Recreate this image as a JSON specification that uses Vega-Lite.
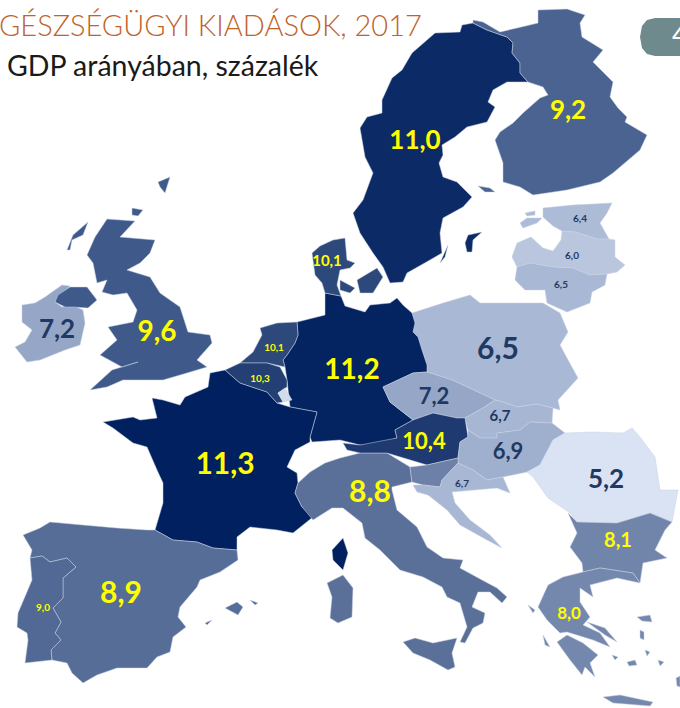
{"$schema":"https://vega.github.io/schema/vega-lite/v6.json","width":680,"height":708,"padding":0,"autosize":{"type":"fit","contains":"padding"},"background":"#ffffff","config":{"view":{"stroke":null}},"projection":{"type":"identity","scale":1,"translate":[0,0]},
"datasets":{"countries":[
{"type":"Feature","properties":{"country":"Sweden","value":11.0},"geometry":{"type":"MultiPolygon","coordinates":[[[[462,25],[473,23],[487,30],[507,37],[513,43],[512,53],[520,63],[520,73],[528,82],[507,82],[493,90],[488,102],[495,107],[487,122],[467,127],[455,137],[442,145],[443,155],[439,163],[443,177],[457,182],[472,197],[463,207],[443,218],[440,233],[442,253],[430,260],[407,273],[403,282],[390,283],[383,267],[373,253],[360,233],[353,213],[363,200],[373,173],[365,157],[360,128],[367,117],[382,113],[382,100],[392,78],[402,70],[412,53],[435,33],[460,32],[462,25]]],[[[465,243],[468,235],[482,232],[473,240],[472,252],[467,252],[465,243]]],[[[440,263],[448,245],[445,257],[440,263]]]]}},
{"type":"Feature","properties":{"country":"Finland","value":9.2},"geometry":{"type":"MultiPolygon","coordinates":[[[[473,20],[483,22],[500,32],[517,28],[538,23],[538,10],[567,9],[585,15],[580,23],[582,37],[603,50],[593,62],[613,82],[610,97],[618,108],[627,117],[625,122],[647,135],[640,150],[613,173],[600,182],[567,190],[533,195],[520,187],[503,182],[503,163],[495,140],[500,132],[513,123],[523,113],[540,98],[548,95],[543,87],[528,82],[520,73],[520,63],[512,53],[513,43],[507,37],[487,30],[473,23],[473,20]]],[[[478,186],[490,188],[495,192],[485,192],[478,186]]]]}},
{"type":"Feature","properties":{"country":"Estonia","value":6.4},"geometry":{"type":"MultiPolygon","coordinates":[[[[543,208],[573,205],[612,203],[607,213],[600,223],[609,239],[597,239],[575,232],[562,231],[553,226],[543,217],[543,208]]],[[[520,223],[527,218],[542,218],[537,223],[523,228],[520,223]]],[[[525,213],[535,211],[535,215],[527,216],[525,213]]]]}},
{"type":"Feature","properties":{"country":"Latvia","value":6.0},"geometry":{"type":"Polygon","coordinates":[[[512,257],[517,243],[531,237],[543,248],[553,251],[561,240],[562,231],[575,232],[597,239],[609,239],[615,240],[615,257],[625,265],[617,272],[607,274],[590,275],[573,268],[553,267],[530,263],[517,267],[512,257]]]}},
{"type":"Feature","properties":{"country":"Lithuania","value":6.5},"geometry":{"type":"Polygon","coordinates":[[[517,267],[530,263],[553,267],[573,268],[590,275],[607,274],[605,285],[592,292],[590,303],[567,312],[547,303],[545,290],[525,290],[515,280],[517,267]]]}},
{"type":"Feature","properties":{"country":"Poland","value":6.5},"geometry":{"type":"Polygon","coordinates":[[[412,313],[443,303],[470,295],[480,303],[543,303],[560,313],[568,332],[560,345],[567,358],[578,378],[558,400],[560,410],[553,408],[537,404],[517,407],[503,402],[495,400],[463,385],[452,380],[427,372],[427,365],[422,350],[418,337],[413,332],[415,323],[412,313]]]}},
{"type":"Feature","properties":{"country":"Germany","value":11.2},"geometry":{"type":"Polygon","coordinates":[[[325,293],[341,296],[345,306],[365,312],[370,305],[390,303],[397,298],[403,305],[412,313],[415,323],[413,332],[418,337],[422,350],[427,365],[427,372],[413,373],[383,387],[390,402],[413,420],[395,430],[397,438],[375,445],[360,445],[340,440],[312,442],[310,437],[317,412],[290,407],[287,380],[285,367],[283,360],[287,355],[295,343],[298,335],[297,322],[325,315],[325,293]]]}},
{"type":"Feature","properties":{"country":"Denmark","value":10.1},"geometry":{"type":"MultiPolygon","coordinates":[[[[312,253],[320,246],[333,240],[345,238],[347,260],[355,263],[350,268],[340,270],[337,285],[341,296],[325,293],[322,283],[315,275],[312,253]]],[[[357,280],[377,268],[383,277],[373,293],[360,293],[357,280]]],[[[340,280],[355,288],[350,293],[340,290],[340,280]]]]}},
{"type":"Feature","properties":{"country":"Ireland","value":7.2},"geometry":{"type":"Polygon","coordinates":[[[45,297],[62,285],[70,286],[57,299],[55,302],[62,307],[72,305],[83,310],[85,323],[80,345],[65,350],[40,360],[27,362],[15,347],[25,342],[32,330],[22,322],[22,305],[35,303],[45,297]]]}},
{"type":"Feature","properties":{"country":"United Kingdom","value":9.6},"geometry":{"type":"MultiPolygon","coordinates":[[[[107,219],[135,221],[120,237],[155,240],[150,253],[140,263],[127,270],[150,277],[160,293],[180,307],[188,332],[210,335],[212,343],[197,360],[207,367],[187,373],[163,380],[123,380],[107,387],[90,390],[112,370],[138,362],[122,367],[100,355],[117,340],[108,327],[133,322],[137,310],[127,293],[113,295],[102,292],[107,280],[97,283],[93,263],[87,255],[95,237],[107,219]]],[[[55,302],[58,295],[70,287],[87,287],[97,300],[88,308],[73,307],[65,307],[55,302]]],[[[67,250],[73,235],[88,222],[83,235],[72,240],[70,250],[67,250]]],[[[132,208],[143,210],[138,216],[132,215],[132,208]]],[[[158,182],[170,177],[165,193],[160,187],[158,182]]]]}},
{"type":"Feature","properties":{"country":"France","value":11.3},"geometry":{"type":"MultiPolygon","coordinates":[[[[210,373],[225,370],[240,383],[267,392],[277,403],[290,407],[317,412],[310,437],[310,442],[295,450],[287,467],[297,473],[298,483],[295,493],[302,507],[313,517],[293,533],[277,530],[250,527],[237,537],[237,550],[213,548],[197,542],[173,540],[155,530],[163,503],[163,483],[157,470],[147,447],[133,443],[113,428],[103,422],[133,417],[140,420],[157,418],[152,398],[163,400],[180,405],[185,397],[208,387],[210,373]]],[[[343,538],[348,553],[343,570],[333,560],[332,550],[343,538]]]]}},
{"type":"Feature","properties":{"country":"Italy","value":8.8},"geometry":{"type":"MultiPolygon","coordinates":[[[[298,483],[310,472],[325,463],[340,458],[360,453],[370,453],[387,453],[410,467],[412,482],[392,487],[392,490],[397,510],[417,527],[427,547],[443,558],[463,560],[460,568],[482,580],[497,588],[507,597],[502,603],[490,592],[478,592],[472,607],[485,613],[483,623],[473,628],[465,643],[460,642],[467,627],[460,603],[447,597],[442,587],[423,577],[400,570],[380,550],[365,538],[362,523],[343,508],[332,508],[313,520],[302,507],[295,493],[298,483]]],[[[327,583],[343,575],[353,588],[352,617],[338,623],[330,618],[332,597],[327,583]]],[[[403,642],[415,638],[433,643],[457,638],[452,653],[455,667],[448,670],[430,660],[413,653],[403,642]]]]}},
{"type":"Feature","properties":{"country":"Spain","value":8.9},"geometry":{"type":"MultiPolygon","coordinates":[[[[23,535],[40,528],[50,522],[83,525],[117,528],[147,530],[155,530],[173,540],[197,542],[213,548],[237,550],[238,560],[220,572],[200,580],[197,587],[180,607],[178,617],[186,627],[173,637],[170,652],[157,657],[147,668],[117,668],[97,675],[83,683],[72,673],[67,663],[52,660],[51,650],[61,640],[55,633],[61,622],[53,608],[63,598],[63,578],[76,567],[67,558],[50,562],[42,556],[30,558],[32,550],[23,535]]],[[[225,608],[237,602],[243,607],[238,615],[225,608]]],[[[250,600],[258,603],[255,605],[250,600]]],[[[205,623],[212,620],[207,625],[205,623]]]]}},
{"type":"Feature","properties":{"country":"Portugal","value":9.0},"geometry":{"type":"Polygon","coordinates":[[[30,558],[42,556],[50,562],[67,558],[76,567],[63,578],[63,598],[53,608],[61,622],[55,633],[61,640],[51,650],[52,660],[25,663],[28,640],[27,633],[17,627],[18,613],[32,580],[30,558]]]}},
{"type":"Feature","properties":{"country":"Netherlands","value":10.1},"geometry":{"type":"Polygon","coordinates":[[[260,328],[277,323],[297,322],[298,335],[295,343],[287,355],[283,360],[285,367],[267,363],[240,363],[253,352],[262,335],[260,328]]]}},
{"type":"Feature","properties":{"country":"Belgium","value":10.3},"geometry":{"type":"Polygon","coordinates":[[[225,370],[240,363],[267,363],[280,367],[287,380],[287,387],[278,393],[283,402],[277,403],[267,392],[240,383],[225,370]]]}},
{"type":"Feature","properties":{"country":"Luxembourg","value":4.8},"geometry":{"type":"Polygon","coordinates":[[[278,393],[285,388],[292,400],[283,402],[278,393]]]}},
{"type":"Feature","properties":{"country":"Czechia","value":7.2},"geometry":{"type":"Polygon","coordinates":[[[383,387],[413,373],[427,372],[452,380],[463,385],[495,400],[483,408],[465,418],[457,418],[433,413],[413,420],[390,402],[383,387]]]}},
{"type":"Feature","properties":{"country":"Slovakia","value":6.7},"geometry":{"type":"Polygon","coordinates":[[[465,418],[483,408],[495,400],[503,402],[517,407],[537,404],[553,408],[552,423],[530,422],[520,430],[497,433],[497,438],[480,438],[468,430],[465,418]]]}},
{"type":"Feature","properties":{"country":"Austria","value":10.4},"geometry":{"type":"Polygon","coordinates":[[[343,443],[360,445],[397,438],[395,430],[413,420],[433,413],[457,418],[465,418],[468,437],[460,442],[458,458],[427,465],[387,453],[370,453],[360,453],[347,450],[343,443]]]}},
{"type":"Feature","properties":{"country":"Hungary","value":6.9},"geometry":{"type":"Polygon","coordinates":[[[468,430],[480,438],[497,438],[497,433],[520,430],[530,422],[552,423],[565,433],[553,440],[540,465],[527,472],[503,477],[487,480],[473,470],[458,463],[458,458],[460,442],[468,437],[468,430]]]}},
{"type":"Feature","properties":{"country":"Slovenia","value":8.2},"geometry":{"type":"Polygon","coordinates":[[[410,467],[427,465],[458,458],[458,463],[442,480],[440,487],[423,485],[412,482],[410,467]]]}},
{"type":"Feature","properties":{"country":"Croatia","value":6.6},"geometry":{"type":"Polygon","coordinates":[[[458,463],[473,470],[487,480],[503,477],[510,493],[497,488],[452,492],[455,503],[470,520],[490,535],[502,548],[487,540],[460,525],[447,510],[428,495],[417,492],[413,485],[423,485],[440,487],[442,480],[458,463]]]}},
{"type":"Feature","properties":{"country":"Romania","value":5.2},"geometry":{"type":"Polygon","coordinates":[[[565,433],[593,432],[623,433],[632,428],[640,437],[655,457],[660,490],[678,490],[672,522],[650,513],[617,523],[577,522],[570,513],[548,498],[533,477],[527,472],[540,465],[553,440],[565,433]]]}},
{"type":"Feature","properties":{"country":"Bulgaria","value":8.1},"geometry":{"type":"Polygon","coordinates":[[[568,513],[577,522],[617,523],[650,513],[672,522],[665,530],[655,550],[667,558],[643,563],[640,583],[633,573],[600,568],[583,572],[582,563],[570,547],[577,533],[568,513]]]}},
{"type":"Feature","properties":{"country":"Greece","value":8.0},"geometry":{"type":"MultiPolygon","coordinates":[[[[583,572],[600,568],[633,573],[640,583],[617,578],[590,585],[593,597],[580,588],[580,602],[590,617],[583,625],[600,633],[610,647],[593,640],[567,632],[560,633],[547,620],[538,607],[548,585],[563,577],[583,572]]],[[[557,642],[567,635],[583,643],[598,655],[590,663],[595,677],[585,667],[582,675],[570,660],[557,642]]],[[[603,697],[620,695],[653,702],[650,706],[613,703],[603,697]]],[[[637,617],[650,615],[652,622],[642,621],[637,617]]],[[[640,630],[644,632],[644,640],[640,638],[640,630]]],[[[587,622],[605,628],[617,642],[605,635],[587,622]]],[[[627,662],[635,660],[637,665],[629,666],[627,662]]],[[[528,605],[535,610],[533,613],[528,605]]],[[[543,635],[550,647],[545,645],[543,635]]],[[[612,655],[618,657],[615,660],[612,655]]],[[[645,650],[650,652],[647,656],[645,650]]],[[[658,660],[664,662],[660,666],[658,660]]],[[[676,678],[680,676],[680,687],[677,686],[676,678]]]]}}
],
"labels":[
{"label":"11,0","value":11.0,"lon":415,"lat":141,"fontClass":"e"},{"label":"9,2","value":9.2,"lon":568,"lat":111,"fontClass":"e"},{"label":"6,4","value":6.4,"lon":580,"lat":219,"fontClass":"a"},{"label":"6,0","value":6.0,"lon":572,"lat":256,"fontClass":"a"},{"label":"6,5","value":6.5,"lon":561,"lat":285,"fontClass":"a"},{"label":"10,1","value":10.1,"lon":327,"lat":261,"fontClass":"b"},{"label":"7,2","value":7.2,"lon":57,"lat":330,"fontClass":"e"},{"label":"9,6","value":9.6,"lon":157,"lat":333,"fontClass":"f"},{"label":"10,1","value":10.1,"lon":274,"lat":348,"fontClass":"a"},{"label":"10,3","value":10.3,"lon":260,"lat":379,"fontClass":"a"},{"label":"11,2","value":11.2,"lon":352,"lat":371,"fontClass":"f"},{"label":"6,5","value":6.5,"lon":498,"lat":350,"fontClass":"g"},{"label":"7,2","value":7.2,"lon":434,"lat":397,"fontClass":"d"},{"label":"6,7","value":6.7,"lon":500,"lat":416,"fontClass":"b"},{"label":"10,4","value":10.4,"lon":424,"lat":442,"fontClass":"d"},{"label":"6,9","value":6.9,"lon":508,"lat":452,"fontClass":"d"},{"label":"6,7","value":6.7,"lon":462,"lat":484,"fontClass":"a"},{"label":"5,2","value":5.2,"lon":606,"lat":480,"fontClass":"e"},{"label":"8,8","value":8.8,"lon":370,"lat":493,"fontClass":"g"},{"label":"11,3","value":11.3,"lon":225,"lat":465,"fontClass":"g"},{"label":"8,1","value":8.1,"lon":618,"lat":541,"fontClass":"c"},{"label":"8,0","value":8.0,"lon":569,"lat":614,"fontClass":"c2"},{"label":"8,9","value":8.9,"lon":121,"lat":594,"fontClass":"g"},{"label":"9,0","value":9.0,"lon":43,"lat":608,"fontClass":"a"}
]},
"layer":[
{"data":{"name":"countries"},"mark":{"type":"geoshape","stroke":"#c9d3e5","strokeWidth":0.5},"encoding":{"color":{"field":"properties.value","type":"quantitative","scale":{"domain":[4.8,5.2,6.0,6.5,6.7,7.2,8.0,8.8,9.2,9.6,10.1,10.4,11.0,11.3],"range":["#d0dcee","#d9e3f3","#b9c6dd","#a9b8d4","#a6b6d3","#95a6c6","#7487ad","#5a7099","#4a6391","#3f5a8a","#2d487a","#1f3a70","#0c2a66","#00205f"]},"legend":null}}},
{"data":{"values":[{"shape":"badge","type":"Feature","geometry":{"type":"Polygon","coordinates":[[[680,18],[655,18],[647,20],[642,26],[640,37],[642,48],[647,54],[655,56],[680,56],[680,18]]]}}]},"mark":{"type":"geoshape","fill":"#6f8a8c","stroke":null},"encoding":{}},
{"data":{"values":[{"text":"4","lon":680,"lat":37}]},"mark":{"type":"text","font":"Lato","fontSize":28,"color":"#ffffff","align":"center","baseline":"middle"},"encoding":{"longitude":{"field":"lon","type":"quantitative"},"latitude":{"field":"lat","type":"quantitative"},"text":{"field":"text"}}},
{"data":{"values":[{"text":"GÉSZSÉGÜGYI KIADÁSOK, 2017","lon":-1,"lat":27}]},"mark":{"type":"text","font":"Lato","fontWeight":300,"fontSize":29,"color":"#c0622a","align":"left","baseline":"middle"},"encoding":{"longitude":{"field":"lon","type":"quantitative"},"latitude":{"field":"lat","type":"quantitative"},"text":{"field":"text"}}},
{"data":{"values":[{"text":"GDP arányában, százalék","lon":7,"lat":67}]},"mark":{"type":"text","font":"Lato","fontWeight":400,"fontSize":28.5,"color":"#1a1a1a","align":"left","baseline":"middle"},"encoding":{"longitude":{"field":"lon","type":"quantitative"},"latitude":{"field":"lat","type":"quantitative"},"text":{"field":"text"}}},
{"data":{"name":"labels"},"encoding":{"longitude":{"field":"lon","type":"quantitative"},"latitude":{"field":"lat","type":"quantitative"},"text":{"field":"label"},"color":{"condition":{"test":"datum.value>=8","value":"#ffff00"},"value":"#1f3864"}},"layer":[
{"transform":[{"filter":"datum.fontClass=='a'"}],"mark":{"type":"text","font":"Lato","fontWeight":700,"align":"center","baseline":"middle","fontSize":10}},
{"transform":[{"filter":"datum.fontClass=='b'"}],"mark":{"type":"text","font":"Lato","fontWeight":700,"align":"center","baseline":"middle","fontSize":15}},
{"transform":[{"filter":"datum.fontClass=='c2'"}],"mark":{"type":"text","font":"Lato","fontWeight":700,"align":"center","baseline":"middle","fontSize":17}},
{"transform":[{"filter":"datum.fontClass=='c'"}],"mark":{"type":"text","font":"Lato","fontWeight":700,"align":"center","baseline":"middle","fontSize":20}},
{"transform":[{"filter":"datum.fontClass=='d'"}],"mark":{"type":"text","font":"Lato","fontWeight":700,"align":"center","baseline":"middle","fontSize":22}},
{"transform":[{"filter":"datum.fontClass=='e'"}],"mark":{"type":"text","font":"Lato","fontWeight":700,"align":"center","baseline":"middle","fontSize":26}},
{"transform":[{"filter":"datum.fontClass=='f'"}],"mark":{"type":"text","font":"Lato","fontWeight":700,"align":"center","baseline":"middle","fontSize":28}},
{"transform":[{"filter":"datum.fontClass=='g'"}],"mark":{"type":"text","font":"Lato","fontWeight":700,"align":"center","baseline":"middle","fontSize":30}}
]}
]}
